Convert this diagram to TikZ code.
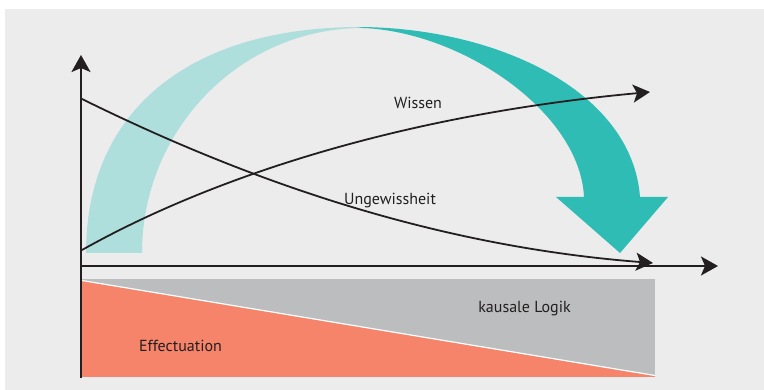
\documentclass[tikz,border=0pt]{standalone}
\usepackage{fontspec}
\setmainfont{PT Sans}
\usetikzlibrary{arrows.meta}
\definecolor{bg}{HTML}{ECECEC}
\definecolor{lteal}{HTML}{AFDFDC}
\definecolor{dteal}{HTML}{2FBCB5}
\definecolor{orng}{HTML}{F5846A}
\definecolor{lgray}{HTML}{BCBDBF}
\definecolor{ink}{HTML}{231F20}
\begin{document}
\begin{tikzpicture}[x=1pt,y=-1pt,
 axis/.style={draw=ink,line width=2pt,-{Stealth[length=17pt,width=19pt,inset=4pt]}},
 curve/.style={draw=ink,line width=1.8pt,-{Stealth[length=17pt,width=18pt,inset=4pt]}},
 lbl/.style={text=ink,font=\fontsize{16}{18}\selectfont,inner sep=0pt,anchor=base}]
\useasboundingbox (0,0) rectangle (764,390);
\fill[white] (0,0) rectangle (764,390);
\fill[bg] (5,9) rectangle (764,390);
% lower box
\fill[lgray] (82,279) rectangle (655,377);
\fill[orng] (82,281) -- (655,376) -- (655,377) -- (82,377) -- cycle;
\draw[white,line width=1.2pt] (82,280.5) -- (655,375.5);
% big arc arrow
\fill[lteal] (86,253) .. controls (86,110) and (190,27) .. (360,27)
  -- (363,28) .. controls (240,28) and (142,130) .. (142,253) -- cycle;
\fill[dteal] (357,27) .. controls (495,27) and (632,90) .. (640,197)
  -- (668,197) -- (620,253) -- (556,197) -- (584,197)
  .. controls (580,112) and (462,32) .. (363,28) -- cycle;
% coordinates
\coordinate (O) at (81,266);
\coordinate (Ytop) at (81,55);
\coordinate (Ybot) at (81,378);
\coordinate (Xend) at (718,266);
\coordinate (U0) at (82,99);
\coordinate (U1) at (653,263);
\coordinate (W0) at (82,250);
\coordinate (W1) at (650,92);
% axes
\draw[axis] (Ybot) -- (Ytop);
\draw[axis] (80,266) -- (Xend);
% curves
\draw[curve] (U0) .. controls (230,172) and (420,245) .. (U1);
\draw[curve] (W0) .. controls (210,178) and (400,115) .. (W1);
% labels
\node[lbl] (wissen) at (418,109) {Wissen};
\node[lbl] (ungew) at (390,205) {Ungewissheit};
\node[lbl] (kausal) at (524.5,313) {kausale Logik};
\node[lbl] (effect) at (180.5,352) {Effectuation};
\end{tikzpicture}
\end{document}
